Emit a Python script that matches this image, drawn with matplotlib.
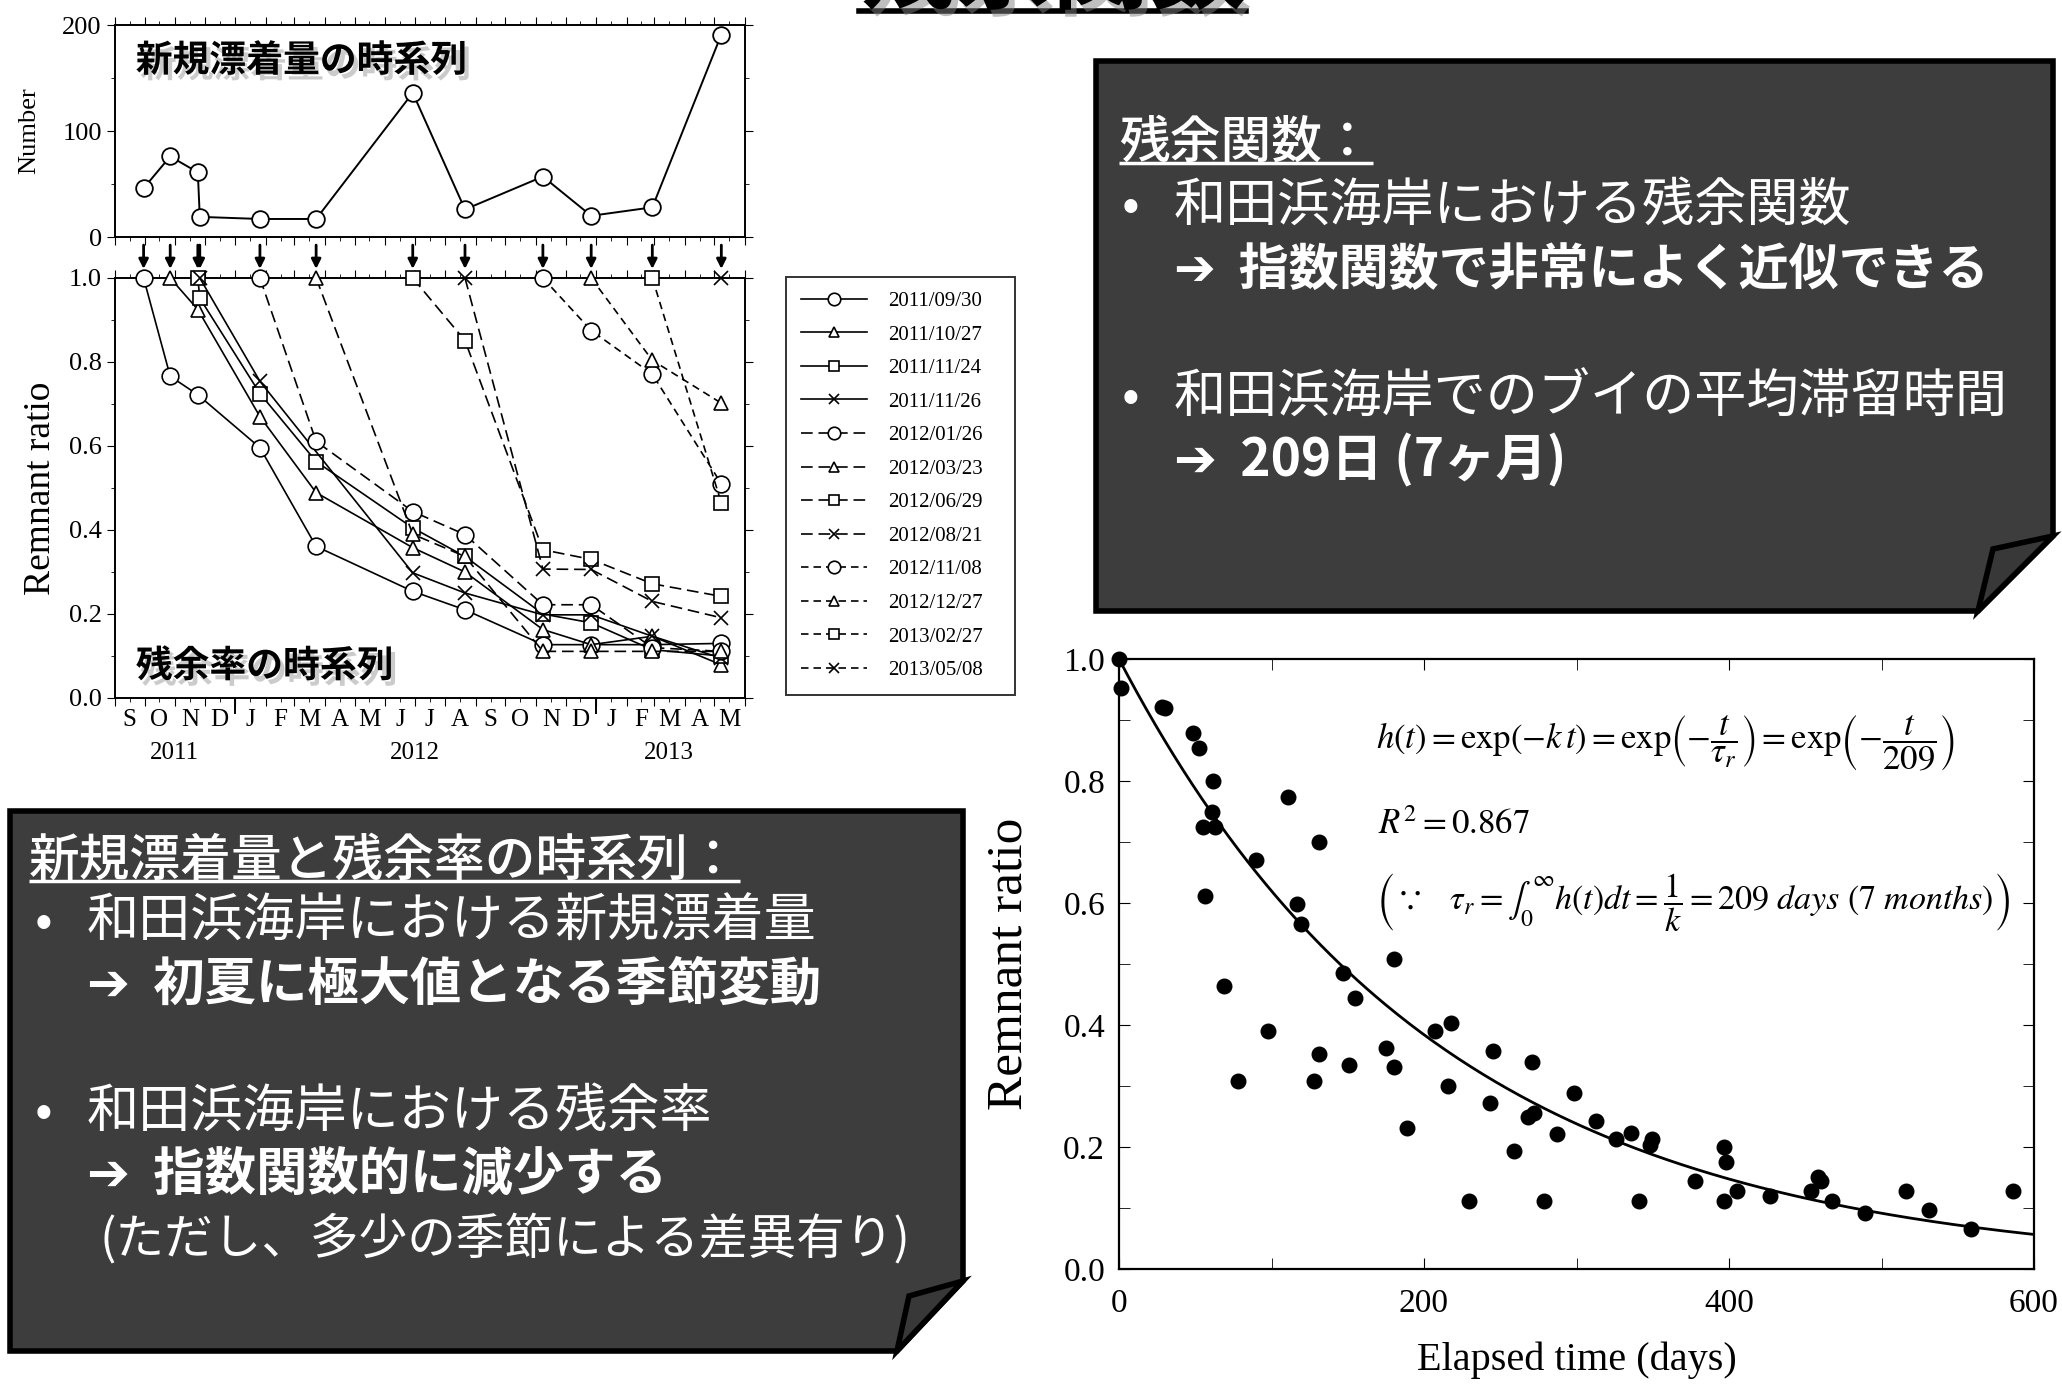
import datetime as dt
import numpy as np
import matplotlib
matplotlib.use('Agg')
import matplotlib.pyplot as plt
import matplotlib.dates as mdates
import matplotlib.patheffects as pe
from matplotlib.patches import Polygon
from matplotlib.ticker import MultipleLocator, FuncFormatter
from matplotlib.transforms import blended_transform_factory

plt.rcParams['font.family'] = ['Liberation Serif', 'DejaVu Serif']
plt.rcParams['mathtext.fontset'] = 'stix'
JP = ['Noto Sans CJK JP', 'DejaVu Sans']

# --- data ---------------------------------------------------------------
sample_dates = ['2011-09-30', '2011-10-27', '2011-11-24', '2011-11-26',
                '2012-01-26', '2012-03-23', '2012-06-29', '2012-08-21',
                '2012-11-08', '2012-12-27', '2013-02-27', '2013-05-08']
new_arrivals = [46, 76, 61, 19, 17, 17, 136, 26, 57, 20, 28, 191]

# remnant ratio of each cohort at each sampling date (None = not yet deposited / no value)
cohort_labels = ['2011/09/30', '2011/10/27', '2011/11/24', '2011/11/26',
                 '2012/01/26', '2012/03/23', '2012/06/29', '2012/08/21',
                 '2012/11/08', '2012/12/27', '2013/02/27', '2013/05/08']
N = None
remnant_ratio = [
    [1.0, 0.766, 0.722, N, 0.596, 0.361, 0.254, 0.21, 0.127, 0.127, 0.127, 0.13],
    [N, 1.0, 0.925, N, 0.67, 0.489, 0.358, 0.30, 0.163, 0.127, 0.147, 0.079],
    [N, N, 1.0, 0.952, 0.725, 0.563, 0.405, 0.337, 0.2, 0.179, 0.115, 0.1],
    [N, N, N, 1.0, 0.754, N, 0.298, 0.25, 0.198, 0.198, 0.147, 0.095],
    [N, N, N, N, 1.0, 0.611, 0.444, 0.389, 0.222, 0.222, 0.12, 0.111],
    [N, N, N, N, N, 1.0, 0.39, 0.337, 0.111, 0.111, 0.111, 0.111],
    [N, N, N, N, N, N, 1.0, 0.851, 0.353, 0.33, 0.272, 0.242],
    [N, N, N, N, N, N, N, 1.0, 0.307, 0.306, 0.23, 0.191],
    [N, N, N, N, N, N, N, N, 1.0, 0.875, 0.771, 0.51],
    [N, N, N, N, N, N, N, N, N, 1.0, 0.804, 0.702],
    [N, N, N, N, N, N, N, N, N, N, 1.0, 0.464],
    [N, N, N, N, N, N, N, N, N, N, N, 1.0],
]
cohort_markers = ['o', '^', 's', 'x'] * 3

elapsed_days = [0, 1, 28, 30, 48.5, 52.6, 61.6, 60.7, 55, 63, 56.6, 69, 78, 90, 98,
                110.6, 117, 119.6, 128, 131, 131, 147, 151, 154.5, 175, 180, 180,
                189, 207, 217.5, 215.7, 229.7, 243, 245, 259, 268, 272, 270.5, 278.7,
                287, 298.6, 312.6, 325.8, 335.7, 340.7, 348, 349.8, 377.9, 396.5, 398,
                397, 405, 426.8, 454, 458.5, 460, 467.6, 489, 516, 531, 559, 586]
ratio_obs = [1.0, 0.953, 0.922, 0.92, 0.878, 0.854, 0.80, 0.75, 0.724, 0.725, 0.611,
             0.464, 0.308, 0.671, 0.39, 0.773, 0.598, 0.565, 0.308, 0.70, 0.353, 0.486,
             0.334, 0.444, 0.363, 0.508, 0.331, 0.231, 0.39, 0.403, 0.30, 0.111, 0.272,
             0.357, 0.193, 0.249, 0.255, 0.339, 0.111, 0.222, 0.289, 0.243, 0.213,
             0.223, 0.111, 0.203, 0.213, 0.145, 0.20, 0.176, 0.111, 0.128, 0.119,
             0.128, 0.151, 0.145, 0.111, 0.092, 0.128, 0.096, 0.066, 0.128]
tau_r = 209

dates = [dt.datetime.strptime(d, '%Y-%m-%d') for d in sample_dates]
xmin, xmax = dt.datetime(2011, 9, 1), dt.datetime(2013, 6, 1)

# --- figure ---------------------------------------------------------------
W, H = 2062, 1385
fig = plt.figure(figsize=(W / 100, H / 100), dpi=100)
bg = fig.add_axes([0, 0, 1, 1])
bg.set_xlim(0, W)
bg.set_ylim(H, 0)
bg.axis('off')


def px_axes(x0, y0, x1, y1):
    return fig.add_axes([x0 / W, 1 - y1 / H, (x1 - x0) / W, (y1 - y0) / H])


def time_axis(ax):
    ax.set_xlim(xmin, xmax)
    ax.xaxis.set_major_locator(mdates.MonthLocator(bymonthday=1))
    ax.xaxis.set_minor_locator(mdates.MonthLocator(bymonthday=16))
    ax.xaxis.set_major_formatter(FuncFormatter(lambda x, p: ''))
    for s in ax.spines.values():
        s.set_linewidth(1.4)


label_shadow = [pe.withSimplePatchShadow(offset=(3, -4), shadow_rgbFace='0.6', alpha=0.5)]

# number of new arrivals
ax1 = px_axes(115, 25, 745, 237)
time_axis(ax1)
ax1.plot(dates, new_arrivals, '-', color='k', lw=1.4, marker='o', ms=12,
         mfc='white', mec='k', mew=1.3, zorder=3)
ax1.set_ylim(0, 200)
ax1.set_yticks([0, 100, 200])
ax1.yaxis.set_minor_locator(MultipleLocator(50))
ax1.tick_params(axis='y', which='both', direction='out', labelsize=19, right=True)
ax1.tick_params(axis='x', which='both', direction='out', top=True, labelbottom=False)
ax1.tick_params(which='major', length=6)
ax1.tick_params(which='minor', length=3)
ax1.set_ylabel('Number', fontsize=19, labelpad=16)
t1 = ax1.text(0.033, 0.83, '新規漂着量の時系列', transform=ax1.transAxes, family=JP,
              fontsize=26.5, weight='bold', va='center', path_effects=label_shadow)

# remnant ratio of each cohort
ax2 = px_axes(115, 278, 745, 698)
time_axis(ax2)
month_fmt = FuncFormatter(lambda x, p: mdates.num2date(x).strftime('%b')[0])
ax2.xaxis.set_minor_formatter(month_fmt)
ax2.tick_params(axis='x', which='both', direction='out', top=True)
ax2.tick_params(axis='x', which='minor', labelsize=18, pad=5)
ax2.tick_params(which='major', length=6)
ax2.tick_params(which='minor', length=3)
ax2.set_ylim(0, 1.0)
ax2.yaxis.set_major_locator(MultipleLocator(0.2))
ax2.yaxis.set_minor_locator(MultipleLocator(0.1))
ax2.yaxis.set_major_formatter(FuncFormatter(lambda v, p: f'{v:.1f}'))
ax2.tick_params(axis='y', which='both', direction='out', right=True, labelsize=19)
ax2.set_ylabel('Remnant ratio', fontsize=27, labelpad=8)

dash_long = (0, (7, 3.5))
dash_short = (0, (4.5, 3))
for i, (lab, vals) in enumerate(zip(cohort_labels, remnant_ratio)):
    xs = [d for d, v in zip(dates, vals) if v is not None]
    ys = [v for v in vals if v is not None]
    ls = '-' if i < 4 else (dash_long if i < 8 else dash_short)
    m = cohort_markers[i]
    ms = 12 if m == 'o' else 10
    ax2.plot(xs, ys, linestyle=ls, color='k', lw=1.2, marker=m, ms=ms,
             mfc='white', mec='k', mew=1.2, label=lab, clip_on=False, zorder=3)

leg = ax2.legend(loc='upper left', bbox_to_anchor=(786 / W, 1 - 698 / H, 229 / W, 421 / H),
                 bbox_transform=fig.transFigure, mode='expand', fontsize=15,
                 labelspacing=0.67, handlelength=3.2, handletextpad=1.0,
                 borderpad=0.7, borderaxespad=0, markerscale=0.75, fancybox=False)
leg.get_frame().set_edgecolor('k')
leg.get_frame().set_linewidth(1.4)

trans2 = blended_transform_factory(ax2.transData, ax2.transAxes)
for d in mdates.date2num(dates):
    ax2.annotate('', xy=(d, 1.015), xytext=(d, 1.085), xycoords=trans2, textcoords=trans2,
                 arrowprops=dict(arrowstyle='-|>', color='k', lw=2, mutation_scale=14))
for yb in mdates.date2num([dt.datetime(2012, 1, 1), dt.datetime(2013, 1, 1)]):
    ax2.plot([yb, yb], [0, -0.035], color='k', lw=1.4, transform=trans2, clip_on=False)
year_mid = mdates.date2num([dt.datetime(2011, 10, 31), dt.datetime(2012, 7, 1),
                            dt.datetime(2013, 3, 16)])
for yr, mid in zip(['2011', '2012', '2013'], year_mid):
    ax2.text(mid, -0.13, yr, transform=trans2, ha='center', va='center', fontsize=18)
t2 = ax2.text(0.033, 0.075, '残余率の時系列', transform=ax2.transAxes, family=JP,
              fontsize=26.5, weight='bold', va='center', path_effects=label_shadow)

# remnant function
ax3 = px_axes(1119, 659, 2034, 1269)
t_fit = np.linspace(0, 600, 300)
ax3.plot(t_fit, np.exp(-t_fit / tau_r), color='k', lw=2)
ax3.scatter(elapsed_days, ratio_obs, s=110, color='k', zorder=3, clip_on=False)
ax3.set_xlim(0, 600)
ax3.set_ylim(0, 1.0)
ax3.xaxis.set_major_locator(MultipleLocator(200))
ax3.xaxis.set_minor_locator(MultipleLocator(100))
ax3.yaxis.set_major_locator(MultipleLocator(0.2))
ax3.yaxis.set_minor_locator(MultipleLocator(0.1))
ax3.yaxis.set_major_formatter(FuncFormatter(lambda v, p: f'{v:.1f}'))
ax3.tick_params(which='both', direction='in', top=True, right=True, labelsize=24)
ax3.tick_params(axis='x', which='both', pad=14)
ax3.tick_params(axis='y', which='both', pad=10)
ax3.tick_params(which='major', length=8)
ax3.tick_params(which='minor', length=8)
for s in ax3.spines.values():
    s.set_linewidth(1.6)
ax3.set_xlabel('Elapsed time (days)', fontsize=29, labelpad=16)
ax3.set_ylabel('Remnant ratio', fontsize=37, labelpad=22)
EQ = 25
ax3.text(0.281, 0.862,
         r'$h\left(t\right)=\mathrm{exp}\left(-k\,t\right)=\mathrm{exp}\left(-\dfrac{t}{\tau_r}\right)'
         r'=\mathrm{exp}\left(-\dfrac{t}{209}\right)$',
         transform=ax3.transAxes, fontsize=EQ, va='center')
ax3.text(0.283, 0.727, r'$R^2=0.867$', transform=ax3.transAxes, fontsize=EQ, va='center')
ax3.text(0.281, 0.6,
         r'$\left(\because\quad\tau_r=\int_0^{\infty}h\left(t\right)dt=\dfrac{1}{k}'
         r'=\mathit{209\ days}\ \left(\mathit{7\ months}\right)\right)$',
         transform=ax3.transAxes, fontsize=EQ - 0.5, va='center')

# --- text boxes --------------------------------------------------------------
BOX = '#3d3d3d'


def note_box(x0, y0, x1, y1, cx, cy, fx, fy):
    bg.add_patch(Polygon([(x0, y0), (x1, y0), (x1, y1 - cy), (x1 - cx, y1), (x0, y1)],
                         closed=True, facecolor=BOX, edgecolor='k', lw=4, joinstyle='miter'))
    bg.add_patch(Polygon([(x1, y1 - cy), (x1 - fx, y1 - cy + fy), (x1 - cx, y1)],
                         closed=True, facecolor='#383838', edgecolor='k', lw=4, joinstyle='miter'))


note_box(10, 811, 963, 1351, 66, 70, 54, 15)
note_box(1096, 61, 2053, 611, 75, 75, 60, 13)

FS = 37.5
heads = []
heads.append(bg.text(29, 861, '新規漂着量と残余率の時系列：', family=JP, fontsize=FS - 1,
                     color='white', va='center', weight='medium'))
heads.append(bg.text(1119, 143, '残余関数：', family=JP, fontsize=FS - 1, color='white',
                     va='center', weight='medium'))
box_lines = [
    (35, 87, 922, '和田浜海岸における新規漂着量', 'normal', FS, True),
    (35, 87, 984, '➔  初夏に極大値となる季節変動', 'bold', FS - 0.5, False),
    (35, 87, 1112, '和田浜海岸における残余率', 'normal', FS, True),
    (35, 87, 1174, '➔  指数関数的に減少する', 'bold', FS - 0.5, False),
    (35, 100, 1239, '(ただし、多少の季節による差異有り)', 'normal', 35, False),
    (1122, 1174, 206, '和田浜海岸における残余関数', 'normal', FS, True),
    (1122, 1174, 270, '➔  指数関数で非常によく近似できる', 'bold', FS - 1.5, False),
    (1122, 1174, 397, '和田浜海岸でのブイの平均滞留時間', 'normal', FS, True),
    (1122, 1174, 460, '➔  209日 (7ヶ月)', 'bold', FS - 0.5, False),
]
for bx, tx, y, s, w, fs, bullet in box_lines:
    if bullet:
        bg.text(bx, y, '•', family=JP, fontsize=FS, color='white', va='center')
    bg.text(tx, y, s, family=JP, fontsize=fs, color='white', va='center', weight=w)

# slide title, mostly cut off at the top edge
title_shadow = [pe.withSimplePatchShadow(offset=(4, -5), shadow_rgbFace='0.5', alpha=0.5)]
bg.text(1052, 1, '残余関数', family=JP, fontsize=70, weight='bold', ha='center',
        va='baseline', path_effects=title_shadow)
bg.plot([859, 1246], [11, 11], color='k', lw=4, path_effects=title_shadow)

# underlines under headings
fig.canvas.draw()
inv = bg.transData.inverted()


def underline(t, color, lw, gap, shadow=False):
    bb = t.get_window_extent()
    (xa, ya), (xb, yb) = inv.transform([(bb.x0, bb.y0), (bb.x1, bb.y1)])
    y = max(ya, yb) + gap
    bg.plot([min(xa, xb), max(xa, xb)], [y, y], color=color, lw=lw,
            path_effects=label_shadow if shadow else None, solid_capstyle='butt')


for h in heads:
    underline(h, 'white', 2.5, -6)
underline(t1, 'k', 2.5, -4, shadow=True)
underline(t2, 'k', 2.5, -4, shadow=True)

fig.savefig('out.png', dpi=100)
